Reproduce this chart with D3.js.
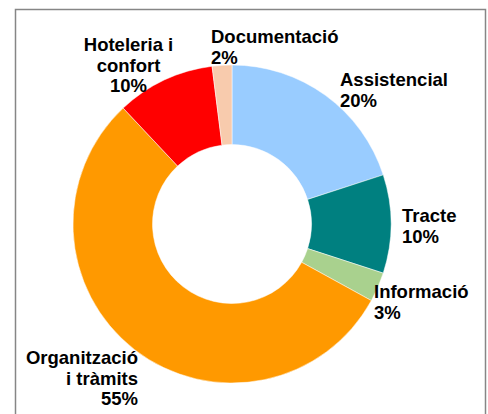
<!DOCTYPE html>
<html>
<head>
<meta charset="utf-8">
<script src="https://cdn.jsdelivr.net/npm/d3@7/dist/d3.min.js"></script>
<style>
  html, body { margin: 0; padding: 0; background: #fff; }
  svg { display: block; }
  text { font-family: "Liberation Sans", Arial, sans-serif; font-weight: bold; font-size: 18.5px; fill: #000; }
</style>
</head>
<body>
<div id="chart"></div>
<script>
// categories, clockwise from 12 o'clock
const categories = ["Assistencial", "Tracte", "Informació", "Organització i tràmits", "Hoteleria i confort", "Documentació"];
const values = [20, 10, 3, 55, 10, 2];
const colors = ["#99CCFF", "#008080", "#A9D18E", "#FF9900", "#FF0000", "#F8CBAD"];
// label text split in lines (last line is the percentage)
const labelLines = [
    ["Assistencial"],
    ["Tracte"],
    ["Informació"],
    ["Organització", "i tràmits"],
    ["Hoteleria i", "confort"],
    ["Documentació"]
];

const width = 488, height = 414;
const cx = 232, cy = 224;
const outerR = 159, innerR = 79.5;
const lineH = 20.5;

// label placement relative to centre: first baseline, anchor
const labelLayout = {
    "Assistencial": {dx: 108, dy: -138, anchor: "start"},
    "Tracte": {dx: 170, dy: -2, anchor: "start"},
    "Informació": {dx: 142, dy: 74, anchor: "start"},
    "Organització i tràmits": {dx: -94, dy: 140, anchor: "end"},
    "Hoteleria i confort": {dx: -103.5, dy: -173, anchor: "middle"},
    "Documentació": {dx: -21, dy: -181, anchor: "start"}
};

const svg = d3.select("#chart").append("svg")
    .attr("width", width)
    .attr("height", height);

// chart frame
svg.append("rect")
    .attr("x", 15.5).attr("y", 9.5)
    .attr("width", 470).attr("height", 420)
    .attr("fill", "none")
    .attr("stroke", "#868686")
    .attr("stroke-width", 1.5);

const data = categories.map((c, i) => ({name: c, value: values[i], color: colors[i], lines: labelLines[i]}));

const pie = d3.pie()
    .value(d => d.value)
    .sort(null)
    .startAngle(0)
    .endAngle(2 * Math.PI);

const arc = d3.arc()
    .innerRadius(innerR)
    .outerRadius(outerR);

const g = svg.append("g")
    .attr("transform", "translate(" + cx + "," + cy + ")");

g.selectAll("path")
    .data(pie(data))
    .enter().append("path")
    .attr("d", arc)
    .attr("fill", d => d.data.color)
    .attr("stroke", "#fff")
    .attr("stroke-width", 0.5);

const labels = g.selectAll("text.lbl")
    .data(data)
    .enter().append("text")
    .attr("class", "lbl")
    .attr("text-anchor", d => labelLayout[d.name].anchor)
    .attr("transform", d => "translate(" + labelLayout[d.name].dx + "," + labelLayout[d.name].dy + ")");

labels.each(function(d) {
    const t = d3.select(this);
    const lines = d.lines.concat([d.value + "%"]);
    lines.forEach((ln, i) => {
        t.append("tspan")
            .attr("x", 0)
            .attr("y", i * lineH)
            .text(ln);
    });
});
</script>
</body>
</html>
